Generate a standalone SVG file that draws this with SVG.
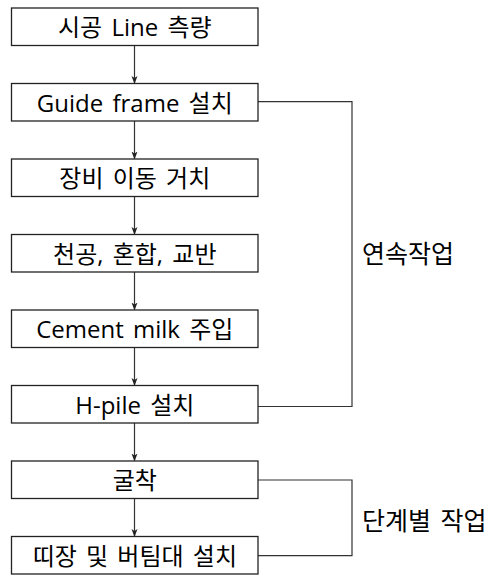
<svg xmlns="http://www.w3.org/2000/svg" width="490" height="576" viewBox="0 0 490 576">
<style>
.box{fill:#fff;stroke:#222;stroke-width:1.3}
.t{font-family:"Open Sans","Noto Sans CJK KR",sans-serif;font-size:24px;fill:#000;text-anchor:middle;dominant-baseline:central;word-spacing:3px}
.lbl{font-family:"Open Sans","Noto Sans CJK KR",sans-serif;font-size:25px;fill:#000;dominant-baseline:central;word-spacing:3px}
.c{fill:none;stroke:#333;stroke-width:1.2}
</style>
<defs>
<marker id="ah" markerWidth="8" markerHeight="10" refX="7" refY="5" orient="auto" markerUnits="userSpaceOnUse">
<path d="M0,2 L8,5 L0,8 L2,5 Z" fill="#222"/>
</marker>
</defs>
<rect width="490" height="576" fill="#fff"/>
<g id="connectors">
<line class="c" x1="134.5" y1="45.5" x2="134.5" y2="83" marker-end="url(#ah)"/>
<line class="c" x1="134.5" y1="121" x2="134.5" y2="158.5" marker-end="url(#ah)"/>
<line class="c" x1="134.5" y1="196.5" x2="134.5" y2="234" marker-end="url(#ah)"/>
<line class="c" x1="134.5" y1="272" x2="134.5" y2="309.5" marker-end="url(#ah)"/>
<line class="c" x1="134.5" y1="347.5" x2="134.5" y2="385" marker-end="url(#ah)"/>
<line class="c" x1="134.5" y1="423" x2="134.5" y2="460.5" marker-end="url(#ah)"/>
<line class="c" x1="134.5" y1="498.5" x2="134.5" y2="536" marker-end="url(#ah)"/>
<polyline class="c" points="258,101.7 352,101.7 352,406.5 258,406.5"/>
<polyline class="c" points="258,480 352,480 352,555.7 258,555.7"/>
</g>
<g id="n1"><rect class="box" x="11.5" y="8" width="246.5" height="37.5"/><text class="t" x="134.8" y="26.8">시공 Line 측량</text></g>
<g id="n2"><rect class="box" x="11.5" y="83.5" width="246.5" height="37.5"/><text class="t" x="134.8" y="102.3">Guide frame 설치</text></g>
<g id="n3"><rect class="box" x="11.5" y="159" width="246.5" height="37.5"/><text class="t" x="134.8" y="177.8">장비 이동 거치</text></g>
<g id="n4"><rect class="box" x="11.5" y="234.5" width="246.5" height="37.5"/><text class="t" x="134.8" y="253.3">천공, 혼합, 교반</text></g>
<g id="n5"><rect class="box" x="11.5" y="310" width="246.5" height="37.5"/><text class="t" x="134.8" y="328.8">Cement milk 주입</text></g>
<g id="n6"><rect class="box" x="11.5" y="385.5" width="246.5" height="37.5"/><text class="t" x="134.8" y="404.3">H-pile 설치</text></g>
<g id="n7"><rect class="box" x="11.5" y="461" width="246.5" height="37.5"/><text class="t" x="134.8" y="479.8">굴착</text></g>
<g id="n8"><rect class="box" x="11.5" y="536.5" width="246.5" height="37.5"/><text class="t" x="134.8" y="555.3">띠장 및 버팀대 설치</text></g>
<g id="labels">
<text class="lbl" x="362" y="253">연속작업</text>
<text class="lbl" x="362" y="520">단계별 작업</text>
</g>
</svg>
